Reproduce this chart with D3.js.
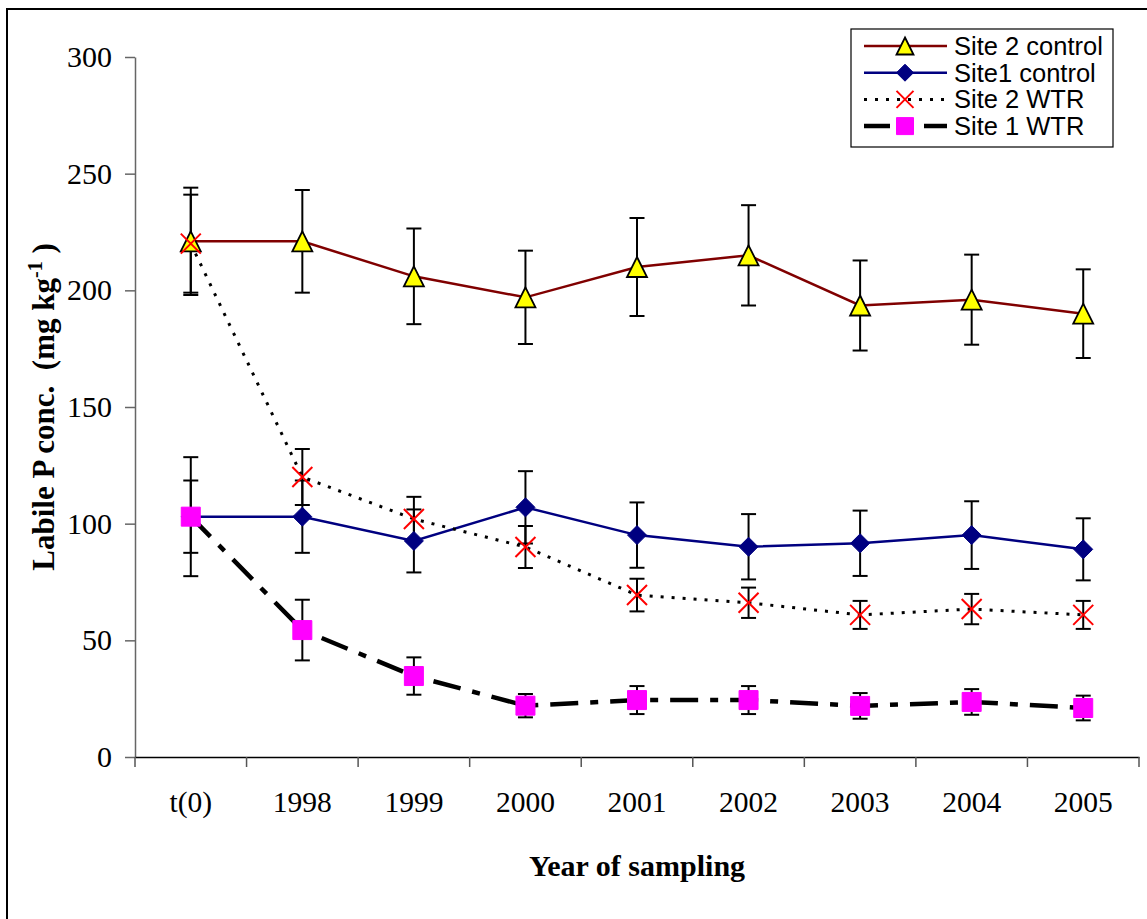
<!DOCTYPE html>
<html>
<head>
<meta charset="utf-8">
<script src="https://cdn.jsdelivr.net/npm/d3@7"></script>
<style>
  html, body { margin: 0; padding: 0; background: #fff; }
  svg { display: block; }
</style>
</head>
<body>
<svg id="chart" width="1147" height="919"></svg>
<script>
// ---------- data ----------
const categories = ["t(0)", "1998", "1999", "2000", "2001", "2002", "2003", "2004", "2005"];
const yTicks = [0, 50, 100, 150, 200, 250, 300];

const site2Control    = [221, 221, 206, 197, 210, 215, 193.5, 196, 190];
const site2ControlErr = [23, 22, 20.5, 20, 21, 21.5, 19.3, 19.3, 19];
const site1Control    = [103, 103, 92.6, 107, 95.1, 90.1, 91.6, 95.1, 89];
const site1ControlErr = [15.5, 15.5, 13.5, 15.5, 14, 14, 14, 14.5, 13.3];
const site2WTR        = [220, 120, 102, 90, 69.4, 66.1, 60.9, 63.4, 60.9];
const site2WTRErr     = [21, 12, 9.5, 9, 7, 6.5, 6, 6.5, 6];
const site1WTR        = [103, 54.4, 34.7, 22, 24.4, 24.4, 21.9, 23.6, 21];
const site1WTRErr     = [25.5, 13, 8, 5, 6, 6, 5.5, 5.5, 5.3];

const seriesNames = ["Site 2 control", "Site1 control", "Site 2 WTR", "Site 1 WTR"];

// ---------- setup ----------
const svg = d3.select("#chart");
const margin = { left: 135, right: 1139, top: 57, bottom: 757 };

const x = d3.scaleBand().domain(categories).range([margin.left, margin.right]).paddingInner(0).paddingOuter(0);
const y = d3.scaleLinear().domain([0, 300]).range([margin.bottom, margin.top]);
const cx = c => x(c) + x.bandwidth() / 2;

// outer frame
svg.append("rect")
  .attr("x", 7).attr("y", 9).attr("width", 1300).attr("height", 1100)
  .attr("fill", "none").attr("stroke", "#000").attr("stroke-width", 2);

// ---------- axes ----------
const yAxis = svg.append("g")
  .attr("transform", `translate(${margin.left},0)`)
  .call(d3.axisLeft(y).tickValues(yTicks).tickSize(10).tickPadding(13).tickSizeOuter(0));
yAxis.select(".domain").attr("stroke", "#666").attr("stroke-width", 1.5);
yAxis.selectAll(".tick line").attr("stroke", "#666").attr("stroke-width", 1.5);
yAxis.selectAll("text")
  .attr("font-family", "'Liberation Serif', 'Times New Roman', serif")
  .attr("font-size", 30).attr("fill", "#000");

const xAxis = svg.append("g")
  .attr("transform", `translate(0,${margin.bottom})`)
  .call(d3.axisBottom(x).tickSize(0).tickPadding(34).tickSizeOuter(0));
xAxis.select(".domain").attr("stroke", "#000").attr("stroke-width", 1.5);
xAxis.selectAll("text")
  .attr("font-family", "'Liberation Serif', 'Times New Roman', serif")
  .attr("font-size", 29.5).attr("fill", "#000");

// boundary ticks
const bounds = d3.range(categories.length + 1).map(i => x.range()[0] + i * x.step());
svg.append("g").selectAll("line").data(bounds).join("line")
  .attr("x1", d => d).attr("x2", d => d)
  .attr("y1", margin.bottom).attr("y2", margin.bottom + 10)
  .attr("stroke", "#555").attr("stroke-width", 1.5);

// axis titles
svg.append("text")
  .attr("x", (margin.left + margin.right) / 2)
  .attr("y", 876)
  .attr("text-anchor", "middle")
  .attr("font-family", "'Liberation Serif', 'Times New Roman', serif")
  .attr("font-weight", "bold").attr("font-size", 30)
  .text("Year of sampling");

const yTitle = svg.append("text")
  .attr("transform", `translate(54,${(margin.top + margin.bottom) / 2}) rotate(-90)`)
  .attr("text-anchor", "middle")
  .attr("font-family", "'Liberation Serif', 'Times New Roman', serif")
  .attr("font-weight", "bold").attr("font-size", 31)
  .style("white-space", "pre");
yTitle.append("tspan").text("Labile P conc.  (mg kg");
yTitle.append("tspan").attr("font-size", 20).attr("dy", -12).text("-1");
yTitle.append("tspan").attr("dy", 12).text(" )");

// ---------- marker shapes ----------
function markerPath(type, s) {
  const h = s / 2;
  if (type === "triangle") return `M0,${-h}L${h},${h}L${-h},${h}Z`;
  if (type === "diamond") return `M0,${-h}L${h},0L0,${h}L${-h},0Z`;
  if (type === "square") return `M${-h},${-h}H${h}V${h}H${-h}Z`;
  if (type === "x") return `M${-h},${-h}L${h},${h}M${h},${-h}L${-h},${h}`;
}

const series = [
  { name: seriesNames[0], values: site2Control, errs: site2ControlErr, color: "#800000", width: 2.5, dash: null, legendDash: null, marker: "triangle", mFill: "#FFFF00", mStroke: "#000", mSW: 1.8, size: 20 },
  { name: seriesNames[1], values: site1Control, errs: site1ControlErr, color: "#000080", width: 2.5, dash: null, legendDash: null, marker: "diamond", mFill: "#000080", mStroke: "#000080", mSW: 1, size: 19 },
  { name: seriesNames[2], values: site2WTR, errs: site2WTRErr, color: "#000", width: 3, dash: "3,8", legendDash: "3,8", marker: "x", mFill: "none", mStroke: "#FF0000", mSW: 2, size: 20 },
  { name: seriesNames[3], values: site1WTR, errs: site1WTRErr, color: "#000", width: 4.5, dash: "28,12,8,12", legendDash: "26,14,6,14", marker: "square", mFill: "#FF00FF", mStroke: "#FF00FF", mSW: 1, size: 19 }
];

const line = d3.line().x(d => cx(d.c)).y(d => y(d.v));

// lines
series.forEach(s => {
  const pts = categories.map((c, i) => ({ c, v: s.values[i] }));
  svg.append("path").datum(pts)
    .attr("d", line)
    .attr("fill", "none")
    .attr("stroke", s.color)
    .attr("stroke-width", s.width)
    .attr("stroke-dasharray", s.dash)
    .attr("stroke-linecap", "butt");
});

// error bars
const capW = 15;
series.forEach(s => {
  const g = svg.append("g").attr("stroke", "#000").attr("stroke-width", 2);
  categories.forEach((c, i) => {
    const v = s.values[i], e = s.errs[i];
    g.append("line").attr("x1", cx(c)).attr("x2", cx(c)).attr("y1", y(v + e)).attr("y2", y(v - e));
    g.append("line").attr("x1", cx(c) - capW / 2).attr("x2", cx(c) + capW / 2).attr("y1", y(v + e)).attr("y2", y(v + e));
    g.append("line").attr("x1", cx(c) - capW / 2).attr("x2", cx(c) + capW / 2).attr("y1", y(v - e)).attr("y2", y(v - e));
  });
});

// markers
series.forEach(s => {
  svg.append("g").selectAll("path").data(categories.map((c, i) => ({ c, v: s.values[i] }))).join("path")
    .attr("transform", d => `translate(${cx(d.c)},${y(d.v)})`)
    .attr("d", markerPath(s.marker, s.size))
    .attr("fill", s.mFill)
    .attr("stroke", s.mStroke)
    .attr("stroke-width", s.mSW)
    .attr("stroke-linejoin", "miter");
});

// ---------- legend ----------
const lg = svg.append("g");
lg.append("rect").attr("x", 851).attr("y", 29).attr("width", 262).attr("height", 118)
  .attr("fill", "#fff").attr("stroke", "#000").attr("stroke-width", 1.2);
series.forEach((s, i) => {
  const ry = 46 + i * 26.7;
  lg.append("line").attr("x1", 864).attr("x2", 947).attr("y1", ry).attr("y2", ry)
    .attr("stroke", s.color).attr("stroke-width", s.width)
    .attr("stroke-dasharray", s.legendDash);
  lg.append("path").attr("transform", `translate(905,${ry})`)
    .attr("d", markerPath(s.marker, 17))
    .attr("fill", s.mFill).attr("stroke", s.mStroke).attr("stroke-width", s.mSW);
  lg.append("text").attr("x", 954).attr("y", ry + 9)
    .attr("font-family", "'Liberation Sans', Arial, sans-serif")
    .attr("font-size", 25.5).attr("fill", "#000")
    .text(s.name);
});
</script>
</body>
</html>
